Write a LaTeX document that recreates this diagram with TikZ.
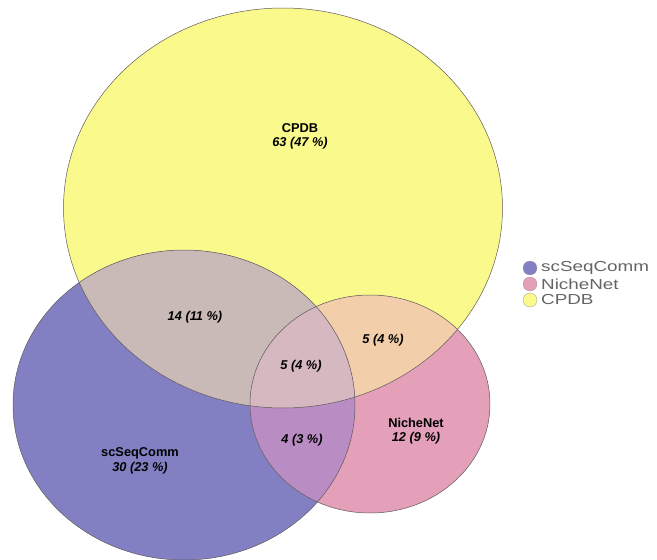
\documentclass[tikz,border=0pt]{standalone}
\usepackage{fontspec}
\setmainfont{Liberation Sans}
\newfontfamily\legfont[FakeStretch=1.3]{Liberation Sans}
\definecolor{cy}{RGB}{250,250,140}
\definecolor{cb}{RGB}{130,128,195}
\definecolor{cp}{RGB}{228,160,185}
\definecolor{cyb}{RGB}{201,186,183}
\definecolor{cyp}{RGB}{242,206,170}
\definecolor{cbp}{RGB}{186,140,196}
\definecolor{cybp}{RGB}{214,184,192}
\definecolor{edge}{RGB}{95,90,90}
\definecolor{legtext}{RGB}{100,100,100}
\begin{document}
\begin{tikzpicture}[x=1pt,y=-1pt,
  lab/.style={font=\fontsize{12.8}{14}\selectfont\bfseries, inner sep=0pt},
  num/.style={font=\fontsize{12.8}{14}\selectfont\bfseries\itshape, inner sep=0pt},
  legtxt/.style={font=\legfont\fontsize{14.5}{15}\selectfont, text=legtext, anchor=west, inner sep=0pt},
  legdot/.style={draw=edge!60, line width=0.3pt}]
\useasboundingbox (0,0) rectangle (657,560);
\def\Ycpdb{(283,208) ellipse [x radius=219.5, y radius=200]}
\def\Bscs{(184,405) ellipse [x radius=171, y radius=155]}
\def\Pnn{(370,404) ellipse [x radius=120, y radius=109]}
% single sets
\fill[cy] \Ycpdb;
\fill[cb] \Bscs;
\fill[cp] \Pnn;
% pairwise
\begin{scope}\clip \Ycpdb; \fill[cyb] \Bscs; \end{scope}
\begin{scope}\clip \Ycpdb; \fill[cyp] \Pnn; \end{scope}
\begin{scope}\clip \Bscs; \fill[cbp] \Pnn; \end{scope}
\begin{scope}\clip \Ycpdb; \clip \Bscs; \fill[cybp] \Pnn; \end{scope}
% outlines
\draw[edge, line width=0.5pt] \Ycpdb;
\draw[edge, line width=0.5pt] \Bscs;
\draw[edge, line width=0.5pt] \Pnn;
% labels
\node[lab] (lcpdb) at (300,128) {CPDB};
\node[num] (ncpdb) at (300,143) {63 (47 \%)};
\node[lab] (lscs) at (140,453) {scSeqComm};
\node[num] (nscs) at (140,468) {30 (23 \%)};
\node[lab] (lnn) at (416,423) {NicheNet};
\node[num] (nnn) at (416,438) {12 (9 \%)};
\node[num] (nyb) at (195,317) {14 (11 \%)};
\node[num] (nybp) at (301,366) {5 (4 \%)};
\node[num] (nyp) at (383,340) {5 (4 \%)};
\node[num] (nbp) at (302,440) {4 (3 \%)};
% legend
\fill[cb] (530,268) ellipse [x radius=7, y radius=7];
\draw[legdot] (530,268) ellipse [x radius=7, y radius=7];
\fill[cp] (530,284) ellipse [x radius=7, y radius=7];
\draw[legdot] (530,284) ellipse [x radius=7, y radius=7];
\fill[cy] (530,300) ellipse [x radius=7, y radius=7];
\draw[legdot] (530,300) ellipse [x radius=7, y radius=7];
\node[legtxt] (t1) at (541,268) {scSeqComm};
\node[legtxt] (t2) at (541,284) {NicheNet};
\node[legtxt] (t3) at (541,300) {CPDB};
\end{tikzpicture}
\end{document}
